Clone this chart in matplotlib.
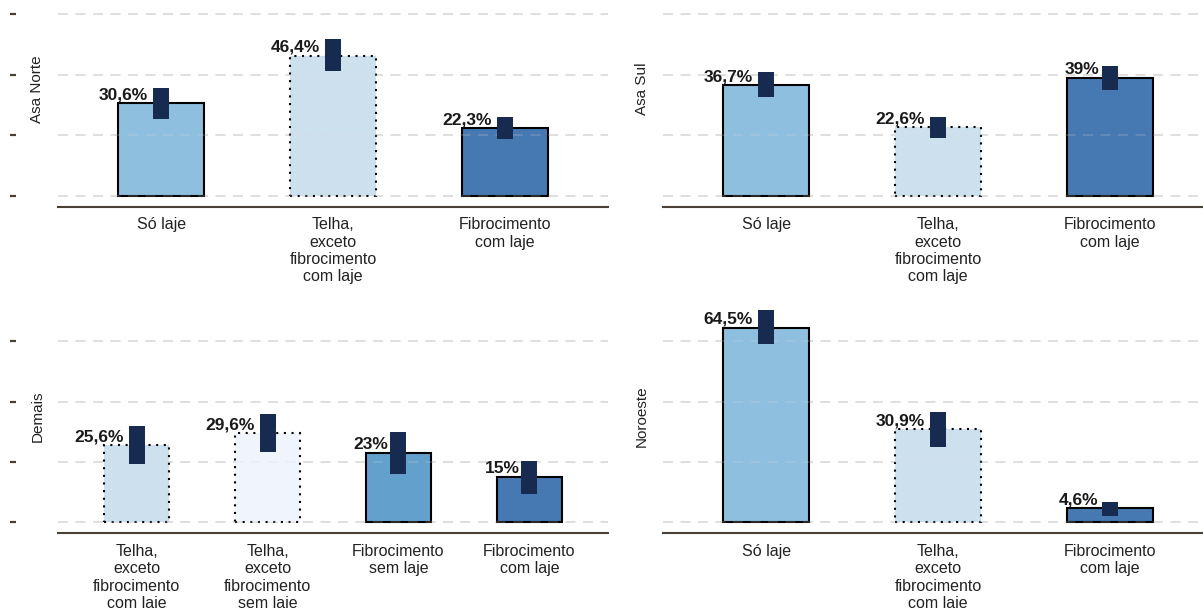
import matplotlib
matplotlib.use("Agg")
import matplotlib.pyplot as plt

plt.rcParams['lines.scale_dashes'] = False

# ---------------- data ----------------
panel_names = ["Asa Norte", "Asa Sul", "Demais", "Noroeste"]

cats_asa_norte = ["Só laje", "Telha,\nexceto\nfibrocimento\ncom laje", "Fibrocimento\ncom laje"]
vals_asa_norte = [30.6, 46.4, 22.3]
lo_asa_norte = [25.4, 41.3, 18.7]
hi_asa_norte = [35.8, 51.9, 26.0]

cats_asa_sul = ["Só laje", "Telha,\nexceto\nfibrocimento\ncom laje", "Fibrocimento\ncom laje"]
vals_asa_sul = [36.7, 22.6, 39.0]
lo_asa_sul = [32.7, 19.2, 34.9]
hi_asa_sul = [40.9, 26.0, 43.0]

cats_demais = ["Telha,\nexceto\nfibrocimento\ncom laje", "Telha,\nexceto\nfibrocimento\nsem laje",
               "Fibrocimento\nsem laje", "Fibrocimento\ncom laje"]
vals_demais = [25.6, 29.6, 23.0, 15.0]
lo_demais = [19.2, 23.4, 15.9, 9.5]
hi_demais = [31.9, 35.8, 29.9, 20.3]

cats_noroeste = ["Só laje", "Telha,\nexceto\nfibrocimento\ncom laje", "Fibrocimento\ncom laje"]
vals_noroeste = [64.5, 30.9, 4.6]
lo_noroeste = [58.9, 25.0, 2.2]
hi_noroeste = [70.3, 36.6, 6.6]

y_ticks = [0, 20, 40, 60]

# ---------------- styles ----------------
fill_colors = {
    "Só laje": "#8fbfdf",
    "Telha,\nexceto\nfibrocimento\ncom laje": "#cde0ed",
    "Telha,\nexceto\nfibrocimento\nsem laje": "#f0f4fc",
    "Fibrocimento\nsem laje": "#63a1cc",
    "Fibrocimento\ncom laje": "#4679b2",
}
dotted_cats = {"Telha,\nexceto\nfibrocimento\ncom laje", "Telha,\nexceto\nfibrocimento\nsem laje"}
err_color = "#172a4f"
grid_color = "#d9d9d9"
axis_color = "#4a4136"
text_color = "#222222"

bold_family = ["Liberation Sans Narrow", "Liberation Sans", "DejaVu Sans"]
reg_family = ["Liberation Sans", "DejaVu Sans"]

W, H = 1203, 608
fig = plt.figure(figsize=(W / 100, H / 100), dpi=100)


def px_axes(left, top, width, height):
    return fig.add_axes([left / W, 1 - (top + height) / H, width / W, height / H])


panels = [
    (panel_names[0], cats_asa_norte, vals_asa_norte, lo_asa_norte, hi_asa_norte, (58, 0, 550, 206.7), (-3.64, 64.8), True, 0.569),
    (panel_names[1], cats_asa_sul, vals_asa_sul, lo_asa_sul, hi_asa_sul, (663, 0, 550, 206.7), (-3.64, 64.8), False, 0.569),
    (panel_names[2], cats_demais, vals_demais, lo_demais, hi_demais, (58, 305, 550, 228.3), (-3.64, 71.96), True, 0.514),
    (panel_names[3], cats_noroeste, vals_noroeste, lo_noroeste, hi_noroeste, (663, 305, 550, 228.3), (-3.64, 71.96), False, 0.514),
]

for name, cats, vals, los, his, pos, ylim, show_ticks, label_y in panels:
    ax = px_axes(*pos)
    n = len(cats)
    xs = list(range(n))
    ax.set_xlim(-0.6, n - 1 + 0.6)
    ax.set_ylim(*ylim)
    ax.set_yticks(y_ticks)
    ax.set_yticklabels([])
    ax.set_axisbelow(True)
    ax.grid(axis='y', color=grid_color, linewidth=1.1, linestyle=(0, (7.2, 5.4)))
    ax.grid(axis='x', visible=False)

    for x, c, v in zip(xs, cats, vals):
        ls = (0, (1.5, 4.0)) if c in dotted_cats else '-'
        ax.bar(x, v, width=0.5, color=fill_colors[c], edgecolor='black',
               linewidth=1.5, linestyle=ls, zorder=2)

    # faint grid overlay visible through bars
    for t in y_ticks:
        ax.axhline(t, color=grid_color, linewidth=1.1, linestyle=(0, (7.2, 5.4)),
                   alpha=0.25, zorder=2.5)

    lc = ax.vlines(xs, los, his, colors=err_color, linewidth=11.5, zorder=3)
    lc.set_capstyle('butt')

    for x, v in zip(xs, vals):
        lab = f"{v:g}".replace('.', ',') + '%'
        off = -(10 + 1.5 * (len(lab) - 3))
        ax.annotate(lab, xy=(x, v), xycoords='data',
                    xytext=(off * 0.72, 2.6), textcoords='offset points',
                    ha='right', va='baseline', fontsize=12.5, fontweight='bold',
                    family=bold_family, color='#1a1a1a', zorder=4)

    ax.set_xticks(xs)
    ax.set_xticklabels(cats, family=reg_family, fontsize=11.5, color=text_color,
                       linespacing=1.2, ha='center', multialignment='center')
    ax.tick_params(axis='x', length=0, pad=7.5)

    for s in ['top', 'right']:
        ax.spines[s].set_visible(False)
    ax.spines['bottom'].set_color(axis_color)
    ax.spines['bottom'].set_linewidth(1.5)

    if show_ticks:
        # spine offset is in points (45 px -> 32.4 pt)
        ax.spines['left'].set_position(('outward', 32.4))
        ax.spines['left'].set_color('none')
        ax.tick_params(axis='y', which='major', direction='inout', length=5, width=1.6,
                       color=axis_color, left=True, labelleft=False)
    else:
        ax.spines['left'].set_visible(False)
        ax.tick_params(axis='y', length=0, labelleft=False)

    ax.set_ylabel(name, family=reg_family, fontsize=11, color=text_color, va='center')
    ax.yaxis.set_label_coords(-0.0373 if show_ticks else -0.0387, label_y)

fig.savefig("out.png", dpi=100)
